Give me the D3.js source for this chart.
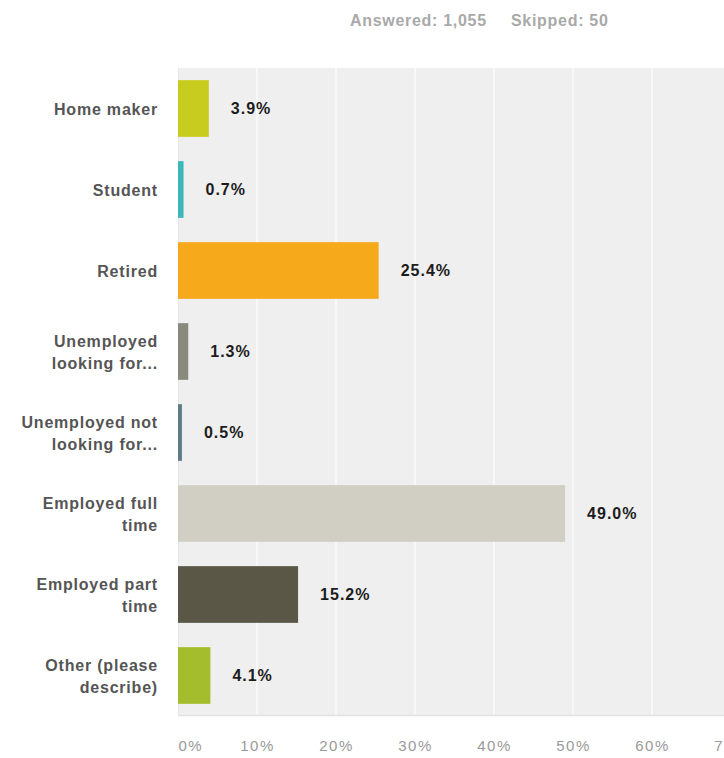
<!DOCTYPE html>
<html>
<head>
<meta charset="utf-8">
<script src="https://cdn.jsdelivr.net/npm/d3@7"></script>
<style>
  html, body { margin: 0; padding: 0; background: #ffffff; }
  svg { display: block; font-family: "Liberation Sans", Arial, sans-serif; }
</style>
</head>
<body>
<svg id="chart" width="724" height="758"></svg>
<script>
// Survey responses: employment status
const categories = [
  ["Home maker"],
  ["Student"],
  ["Retired"],
  ["Unemployed", "looking for..."],
  ["Unemployed not", "looking for..."],
  ["Employed full", "time"],
  ["Employed part", "time"],
  ["Other (please", "describe)"]
];
const values = [3.9, 0.7, 25.4, 1.3, 0.5, 49.0, 15.2, 4.1];
const barColors = ["#c8cc1e", "#3bb6b9", "#f5a91b", "#8a8b7e", "#5f7d88", "#d1cfc3", "#5a5747", "#a4bd2c"];
const tickValues = [0, 10, 20, 30, 40, 50, 60, 70];
const summary = ["Answered: 1,055", "Skipped: 50"];

const svg = d3.select("#chart");
const plot = { left: 178, right: 724, top: 68, bottom: 716 };

const x = d3.scaleLinear().domain([0, 70]).range([plot.left, plot.left + 553]);
const y = d3.scaleBand()
  .domain(d3.range(categories.length))
  .range([plot.top, plot.bottom])
  .paddingInner(0.3)
  .paddingOuter(0.15);

// summary line
const head = svg.append("g").attr("fill", "#a9a9a9")
  .attr("font-size", 16).attr("font-weight", "bold")
  .attr("letter-spacing", 0.7);
head.append("text").attr("x", 350).attr("y", 26).text(summary[0]);
head.append("text").attr("x", 511).attr("y", 26).text(summary[1]);

// plot background
svg.append("rect")
  .attr("x", plot.left).attr("y", plot.top)
  .attr("width", plot.right - plot.left).attr("height", plot.bottom - plot.top)
  .attr("fill", "#efefef");

// vertical grid
svg.append("g").selectAll("line")
  .data(tickValues.filter(d => d > 0))
  .join("line")
  .attr("x1", d => x(d)).attr("x2", d => x(d))
  .attr("y1", plot.top).attr("y2", plot.bottom)
  .attr("stroke", "#f8f8f8").attr("stroke-width", 2);

// left edge of the plot
svg.append("line")
  .attr("x1", plot.left + 0.5).attr("x2", plot.left + 0.5)
  .attr("y1", plot.top).attr("y2", plot.bottom)
  .attr("stroke", "#e4e6ee").attr("stroke-width", 1);

// bottom edge
svg.append("line")
  .attr("x1", plot.left).attr("x2", plot.right)
  .attr("y1", plot.bottom - 0.5).attr("y2", plot.bottom - 0.5)
  .attr("stroke", "#e2e2e2").attr("stroke-width", 1.5);

// bars
svg.append("g").selectAll("rect")
  .data(values)
  .join("rect")
  .attr("x", x(0))
  .attr("y", (d, i) => y(i))
  .attr("width", d => x(d) - x(0))
  .attr("height", y.bandwidth())
  .attr("fill", (d, i) => barColors[i]);

// value labels
svg.append("g").selectAll("text")
  .data(values)
  .join("text")
  .attr("x", d => x(d) + 22)
  .attr("y", (d, i) => y(i) + y.bandwidth() / 2)
  .attr("dy", "0.35em")
  .attr("font-size", 16).attr("font-weight", "bold")
  .attr("letter-spacing", 1)
  .attr("fill", "#1c1c1c")
  .text(d => d.toFixed(1) + "%");

// category labels
const cat = svg.append("g").selectAll("text")
  .data(categories)
  .join("text")
  .attr("text-anchor", "end")
  .attr("font-size", 16).attr("font-weight", "bold")
  .attr("letter-spacing", 0.8)
  .attr("fill", "#555555")
  .attr("y", (d, i) => y(i) + y.bandwidth() / 2);
cat.each(function(lines) {
  const t = d3.select(this);
  const lh = 22;
  const off = -(lines.length - 1) * lh / 2;
  lines.forEach((s, k) => {
    t.append("tspan")
      .attr("x", 158)
      .attr("dy", k === 0 ? (off + 6) : lh)
      .text(s);
  });
});

// x axis labels
const xAxis = d3.axisBottom(x)
  .tickValues(tickValues)
  .tickFormat(d => d + "%")
  .tickSize(0)
  .tickPadding(0);
const gx = svg.append("g")
  .attr("transform", `translate(0,${plot.bottom + 24})`)
  .call(xAxis);
gx.select(".domain").remove();
gx.selectAll("text")
  .attr("font-family", "\"Liberation Sans\", Arial, sans-serif")
  .attr("font-size", 15)
  .attr("letter-spacing", 1.5)
  .attr("fill", "#999999")
  .attr("text-anchor", (d, i) => i === 0 ? "start" : "middle");
</script>
</body>
</html>
